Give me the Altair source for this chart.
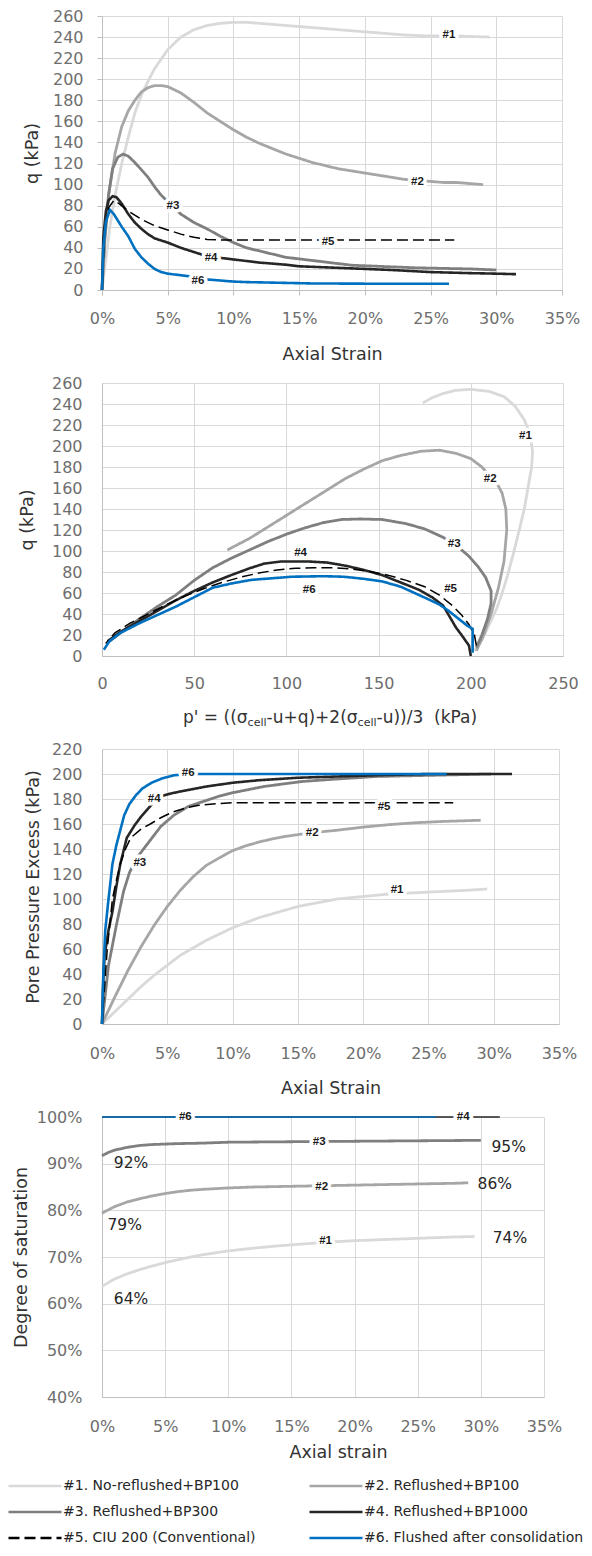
import altair as alt
import pandas as pd

FONT = "DejaVu Sans"
LABEL_FONT = "Liberation Sans"

SERIES = ["#1. No-reflushed+BP100", "#2. Reflushed+BP100", "#3. Reflushed+BP300",
          "#4. Reflushed+BP1000", "#5. CIU 200 (Conventional)", "#6. Flushed after consolidation"]
TAGS = ["#1", "#2", "#3", "#4", "#5", "#6"]
COLORS = ["#d9d9d9", "#a6a6a6", "#7f7f7f", "#262626", "#000000", "#0070c0"]
DASHES = [[1, 0], [1, 0], [1, 0], [1, 0], [11, 5], [1, 0]]
WIDTHS = [2.8, 2.8, 2.8, 2.6, 1.5, 2.6]
WIDTHS_P4 = [2.8, 2.8, 2.8, 1.3, 1.3, 1.3]

# ---------------- Panel 1: q (kPa) vs axial strain (%) ----------------
P1_X1 = [0, 0.3, 0.6, 1, 1.5, 2, 2.5, 3, 3.5, 4, 5, 6, 7, 8, 9, 10, 11, 12, 13, 15, 17, 19, 21, 23, 25, 27, 29.5]
P1_Y1 = [0, 30, 60, 90, 120, 145, 168, 185, 198, 210, 228, 240, 247, 251, 253, 254, 254, 253, 252, 250, 248, 246, 244, 242, 241, 241, 240]
P1_X2 = [0, 0.2, 0.5, 1, 1.5, 2, 2.5, 3, 3.5, 4, 4.5, 5, 6, 7, 8, 9, 10, 11, 12, 13, 14, 15, 16, 17, 18, 19, 20, 21, 22, 23, 24, 25, 26, 27, 28, 29]
P1_Y2 = [0, 50, 90, 130, 155, 170, 180, 188, 192, 194, 194, 193, 187, 178, 168, 160, 152, 145, 139, 134, 129, 125, 121, 118, 115, 113, 111, 109, 107, 105, 104, 103, 102, 102, 101, 100]
P1_X3 = [0, 0.2, 0.5, 0.8, 1.2, 1.6, 2, 2.5, 3, 3.5, 4, 4.5, 5, 5.5, 6, 7, 8, 9, 10, 11, 12, 13, 14, 15, 16, 17, 18, 19, 20, 22, 24, 26, 28, 30]
P1_Y3 = [0, 45, 90, 115, 126, 129, 127, 121, 114, 107, 98, 90, 84, 78, 72, 64, 58, 51, 45, 40, 37, 34, 31, 29.5, 28, 26.5, 25, 23.5, 23, 22, 21, 20.5, 20, 19]
P1_X4 = [0, 0.1, 0.3, 0.5, 0.8, 1.1, 1.5, 2, 2.5, 3, 3.5, 4, 4.5, 5, 6, 7, 8, 9, 10, 12, 14, 15, 17, 20, 22, 25, 28, 30, 31.5]
P1_Y4 = [0, 50, 75, 85, 89, 88, 82, 72, 64, 58, 53, 49, 47, 45, 40, 36, 32, 30.5, 29, 26, 24, 22.5, 21.5, 20, 19, 17, 16, 15.5, 15]
P1_X5 = [0, 0.2, 0.5, 0.9, 1.3, 2, 3, 4, 5, 6, 7, 8, 9, 10, 12, 15, 20, 25, 26.8]
P1_Y5 = [0, 55, 78, 85, 82, 75, 67, 61, 57, 53, 50, 48, 47.5, 47.5, 47.5, 47.5, 47.5, 47.5, 47.5]
P1_X6 = [0, 0.1, 0.3, 0.6, 0.9, 1.2, 1.5, 2, 2.5, 3, 3.5, 4, 4.5, 5, 6, 7, 8, 9, 10, 11, 13, 16, 20, 26.4]
P1_Y6 = [0, 40, 65, 76, 72, 66, 60, 51, 39, 31, 25, 20, 17, 15.5, 14, 12.5, 10, 9, 8, 7.5, 7, 6.2, 6, 6]
P1_LBL_X = [26.4, 24.0, 5.4, 8.3, 17.2, 7.3]
P1_LBL_Y = [241.8, 102.1, 80, 30.4, 45.5, 8.4]

# ---------------- Panel 2: q vs p' ----------------
P2_X1 = [202, 206, 210, 214, 217, 220, 223, 226, 229, 231, 233, 233.5, 232, 229, 224, 218, 210, 200, 192, 185, 179, 174]
P2_Y1 = [5, 15, 30, 45, 60, 77, 97, 118, 140, 160, 180, 195, 212, 225, 238, 247, 252, 254, 253, 250, 246, 241]
P2_X2 = [203, 207, 211, 215, 218, 219.5, 219, 217, 214, 210, 206, 200, 192, 183, 173, 162, 152, 142, 132, 122, 111, 101, 91, 80, 68]
P2_Y2 = [5, 20, 40, 65, 90, 120, 140, 155, 165, 172, 180, 188, 193, 196, 195, 191, 186, 178, 169, 158, 146, 135, 124, 112, 101]
P2_X3 = [203, 206, 209, 211, 211, 208, 204, 199, 193, 185, 175, 165, 152, 140, 130, 120, 110, 100, 90, 80, 70, 60, 50, 40, 30, 20, 10, 4]
P2_Y3 = [8, 20, 35, 50, 62, 75, 85, 95, 104, 113, 121, 126, 130, 130.5, 130, 127, 122, 116, 109, 101, 93, 84, 72, 58, 47, 35, 22, 14]
P2_X4 = [200, 199.5, 199, 197, 195, 192, 189, 185, 179, 172, 162, 152, 142, 132, 122, 112, 97, 88, 80, 70, 60, 50, 40, 30, 20, 10, 3]
P2_Y4 = [0, 5, 10, 15, 20, 27, 36, 48, 56, 63, 70, 77, 82, 86, 89, 90, 90, 88, 83.5, 77, 70, 62, 53, 43, 33, 23, 14]
P2_X5 = [203, 202, 199, 195, 190, 183, 175, 165, 155, 145, 135, 125, 115, 105, 95, 85, 75, 65, 55, 45, 35, 25, 15, 7, 2]
P2_Y5 = [10, 20, 30, 39, 48, 58, 66, 72, 77, 80.5, 83, 84, 84, 83.5, 82, 79, 75, 70, 64, 57, 49, 40, 31, 22, 12]
P2_X6 = [201, 201, 201, 198, 193, 188, 183, 177, 172, 162, 152, 142, 131, 120, 103, 92, 81, 70, 60, 50, 40, 30, 20, 10, 4, 1]
P2_Y6 = [3, 15, 26, 29, 36, 43, 49, 54, 58, 66, 71, 73.5, 75.5, 76, 75.5, 74, 72.5, 69, 65, 56, 47, 39, 31, 22, 14, 6]
P2_LBL_X = [229.6, 210.5, 191, 107.7, 189, 112.4]
P2_LBL_Y = [210, 168.6, 107, 97.7, 63.7, 62.6]

# ---------------- Panel 3: pore pressure excess vs axial strain ----------------
P3_X1 = [0, 1, 2, 3, 4, 5, 6, 7, 8, 9, 10, 11, 12, 13, 14, 15, 16, 17, 18, 19, 20, 22, 24, 26, 28, 29.5]
P3_Y1 = [0, 10, 20, 30, 39, 47, 55, 61, 67, 72, 77, 81, 85, 88, 91, 94, 96, 98, 100, 101, 102, 104, 105, 106, 107, 108]
P3_X2 = [0, 1, 2, 3, 4, 5, 6, 7, 8, 9, 10, 11, 12, 13, 14, 15, 16, 18, 20, 22, 24, 26, 29]
P3_Y2 = [0, 22, 43, 62, 79, 94, 107, 118, 127, 133, 138.7, 142.5, 145.5, 148, 150, 151.5, 153, 155, 157.5, 159.5, 161, 162, 163]
P3_X3 = [0, 0.5, 1.1, 1.65, 2.1, 2.6, 3.4, 4.5, 5.5, 6.6, 8.9, 10, 12.4, 15.3, 18, 21, 25.4, 29.8]
P3_Y3 = [0, 47, 79, 106, 121, 132, 143, 158, 167, 174, 182, 185, 190, 194, 196, 198, 199, 200]
P3_X4 = [0, 0.1, 0.2, 0.5, 0.8, 1.1, 1.4, 1.9, 2.5, 3, 3.5, 4, 4.5, 5.1, 6, 8, 10, 12, 15, 18, 21, 25, 28, 31.4]
P3_Y4 = [0, 35, 55, 75, 90, 110, 128, 149, 159, 166, 172, 178, 182, 184, 186, 190, 193, 195, 197, 198, 199, 200, 200, 200]
P3_X5 = [0, 0.2, 0.4, 0.8, 1.1, 1.4, 1.8, 2.2, 3, 3.7, 4.5, 5.4, 6.5, 7.4, 8.5, 10, 15, 20, 26.9]
P3_Y5 = [0, 30, 60, 100, 115, 128, 140, 149, 156, 160, 165, 169.5, 173, 175, 176, 177, 177, 177, 177]
P3_X6 = [0, 0.1, 0.25, 0.5, 0.8, 1.1, 1.4, 1.7, 2.1, 2.6, 3.1, 3.8, 4.6, 5.5, 7, 26.4]
P3_Y6 = [0, 40, 75, 100, 128, 143, 155, 167, 176, 183, 188.5, 193, 196.5, 199, 200, 200]
P3_LBL_X = [22.6, 16.1, 2.9, 4.0, 21.6, 6.6]
P3_LBL_Y = [107, 152.7, 129, 180.4, 173.7, 201]

# ---------------- Panel 4: degree of saturation vs axial strain ----------------
P4_X1 = [0, 1, 2, 3, 4, 5, 6, 7, 8, 10, 12, 14, 16, 18, 20, 22, 24, 26, 28, 29.5]
P4_Y1 = [63.7, 65.3, 66.4, 67.3, 68.1, 68.8, 69.4, 70, 70.5, 71.3, 71.9, 72.4, 72.8, 73.2, 73.5, 73.7, 73.9, 74.1, 74.3, 74.4]
P4_X2 = [0, 1, 2, 3, 4, 5, 6, 7, 8, 10, 12, 14, 16, 18, 20, 22, 24, 26, 28, 29]
P4_Y2 = [79.4, 80.8, 81.8, 82.5, 83.1, 83.6, 84, 84.3, 84.5, 84.8, 85, 85.1, 85.2, 85.3, 85.4, 85.5, 85.6, 85.7, 85.8, 85.9]
P4_X3 = [0, 0.5, 1, 2, 3, 4, 6, 8, 10, 15, 20, 25, 30]
P4_Y3 = [91.7, 92.4, 92.9, 93.5, 93.9, 94.1, 94.3, 94.4, 94.6, 94.7, 94.8, 94.9, 95]
P4_X4 = [0, 31.5]
P4_Y4 = [100, 100]
P4_X6 = [0, 26.4]
P4_Y6 = [100, 100]
P4_LBL_T = ["#1", "#2", "#3", "#4", "#6"]
P4_LBL_X = [17.7, 17.4, 17.2, 28.6, 6.6]
P4_LBL_Y = [73.4, 85, 94.6, 100, 100]
P4_NOTE_T = ["64%", "79%", "92%", "74%", "86%", "95%"]
P4_NOTE_X = [2.3, 1.8, 2.3, 32.3, 31.1, 32.2]
P4_NOTE_Y = [61, 76.9, 90.2, 74, 85.6, 93.6]

# p' axis title pieces (main text and subscripts)
TITLE2_PARTS = ["p' = ((\u03c3", "cell", "-u+q)+2(\u03c3", "cell", "-u))/3\u00a0\u00a0(kPa)"]
TITLE2_SUB = [False, True, False, True, False]
EM = {"p": .635, "'": .275, " ": .318, "\u00a0": .318, "=": .838, "(": .390, ")": .390,
      "\u03c3": .636, "-": .361, "u": .634, "+": .838, "q": .635, "2": .636, "3": .636,
      "/": .337, "k": .579, "P": .603, "a": .613, "c": .550, "e": .615, "l": .278}

# long horizontal line symbol (5x the nominal symbol width)
LEG = alt.Legend(title=None, orient="none", legendX=-94, legendY=1463, columns=2,
                 direction="horizontal",
                 symbolType="M-5,0H5", symbolSize=112.4, symbolStrokeWidth=2.5,
                 symbolOffset=20, labelOffset=21,
                 labelFont=FONT, labelFontSize=14, labelColor="#262626",
                 rowPadding=12, columnPadding=48, gridAlign="each", labelLimit=400)
COLOR_ENC = alt.Color("series:N", scale=alt.Scale(domain=SERIES, range=COLORS), legend=LEG)
DASH_ENC = alt.StrokeDash("series:N", scale=alt.Scale(domain=SERIES, range=DASHES), legend=LEG)


def xaxis(values, title, tick, lpad, title_y=None, title_x=None, pct=False):
    kw = dict(values=values, grid=True, ticks=tick > 0, labelPadding=lpad,
              labelFlush=False, labelOverlap=False, title=title)
    if tick > 0:
        kw["tickSize"] = tick
    if title_y is not None:
        kw["titleY"] = title_y
        kw["titleBaseline"] = "alphabetic"
    if title_x is not None:
        kw["titleX"] = title_x
        kw["titleAlign"] = "center"
    if pct:
        kw["labelExpr"] = "datum.value + '%'"
    return alt.Axis(**kw)


def yaxis(values, title, tick, lpad, title_x, pct=False):
    kw = dict(values=values, grid=True, ticks=tick > 0, labelPadding=lpad,
              labelFlush=False, labelOverlap=False, title=title,
              titleX=title_x, titleBaseline="middle")
    if tick > 0:
        kw["tickSize"] = tick
    if pct:
        kw["labelExpr"] = "datum.value + '%'"
    return alt.Axis(**kw)


def panel(xs, ys, widths, xdom, ydom, xax, yax, w, h, lbl_t, lbl_x, lbl_y, extra=()):
    X = alt.X("x:Q", scale=alt.Scale(domain=xdom, nice=False, zero=False), axis=xax)
    Y = alt.Y("y:Q", scale=alt.Scale(domain=ydom, nice=False, zero=False), axis=yax)
    layers = []
    for k in range(6):
        if xs[k] is None:
            continue
        df = pd.DataFrame({"x": xs[k], "y": ys[k], "i": list(range(len(xs[k]))), "series": SERIES[k]})
        layers.append(alt.Chart(df).mark_line(strokeWidth=widths[k]).encode(
            x=X, y=Y, order=alt.Order("i:Q"), color=COLOR_ENC, strokeDash=DASH_ENC))
    ldf = pd.DataFrame({"x": lbl_x, "y": lbl_y, "t": lbl_t})
    layers.append(alt.Chart(ldf).mark_text(font=LABEL_FONT, fontSize=11.5, fontWeight="bold",
                                           fill="white", stroke="white", strokeWidth=7,
                                           strokeJoin="round").encode(x=X, y=Y, text="t:N"))
    layers.append(alt.Chart(ldf).mark_text(font=LABEL_FONT, fontSize=11.5, fontWeight="bold",
                                           fill="#1a1a1a").encode(x=X, y=Y, text="t:N"))
    for e in extra:
        layers.append(e(X, Y))
    return alt.layer(*layers).properties(width=w, height=h)


X_PCT = list(range(0, 36, 5))

p1 = panel([P1_X1, P1_X2, P1_X3, P1_X4, P1_X5, P1_X6], [P1_Y1, P1_Y2, P1_Y3, P1_Y4, P1_Y5, P1_Y6],
           WIDTHS, [0, 35], [0, 260],
           xaxis(X_PCT, "Axial Strain", 5, 15.5, title_y=69, pct=True),
           yaxis(list(range(0, 261, 20)), "q (kPa)", 5, 14, -70),
           460, 274, TAGS, P1_LBL_X, P1_LBL_Y)


def title2(X, Y):
    parts = []
    x = 81.0
    for txt, sub in zip(TITLE2_PARTS, TITLE2_SUB):
        fs = 11 if sub else 17
        yb = 343.4 if sub else 339.9
        parts.append(alt.Chart(pd.DataFrame({"a": [0]})).mark_text(
            font=FONT, fontSize=fs, align="left", baseline="alphabetic", color="#333333").encode(
            x=alt.value(x), y=alt.value(yb), text=alt.value(txt)))
        x += sum(EM.get(c, 0.6) for c in txt) * fs
    return alt.layer(*parts)


p2 = panel([P2_X1, P2_X2, P2_X3, P2_X4, P2_X5, P2_X6], [P2_Y1, P2_Y2, P2_Y3, P2_Y4, P2_Y5, P2_Y6],
           WIDTHS, [0, 250], [0, 260],
           xaxis(list(range(0, 251, 50)), None, 0, 19.5),
           yaxis(list(range(0, 261, 20)), "q (kPa)", 0, 20, -75),
           461, 273, TAGS, P2_LBL_X, P2_LBL_Y, extra=[title2])

p3 = panel([P3_X1, P3_X2, P3_X3, P3_X4, P3_X5, P3_X6], [P3_Y1, P3_Y2, P3_Y3, P3_Y4, P3_Y5, P3_Y6],
           WIDTHS, [0, 35], [0, 220],
           xaxis(X_PCT, "Axial Strain", 0, 21, title_y=69, pct=True),
           yaxis(list(range(0, 221, 20)), "Pore Pressure Excess (kPa)", 0, 20, -69),
           457, 275, TAGS, P3_LBL_X, P3_LBL_Y)


def notes4(X, Y):
    ndf = pd.DataFrame({"x": P4_NOTE_X, "y": P4_NOTE_Y, "t": P4_NOTE_T})
    return alt.Chart(ndf).mark_text(font=FONT, fontSize=15.5, color="#262626").encode(x=X, y=Y, text="t:N")


p4 = panel([P4_X1, P4_X2, P4_X3, P4_X4, None, P4_X6], [P4_Y1, P4_Y2, P4_Y3, P4_Y4, None, P4_Y6],
           WIDTHS_P4, [0, 35], [40, 100],
           xaxis(X_PCT, "Axial strain", 0, 21, title_y=60, title_x=236, pct=True),
           yaxis(list(range(40, 101, 10)), "Degree of saturation", 0, 20, -81, pct=True),
           442, 280, P4_LBL_T, P4_LBL_X, P4_LBL_Y, extra=[notes4])

chart = alt.vconcat(p1, p2, p3, p4, spacing=93, bounds="flush").properties(
    padding={"left": 0, "top": 0, "right": 0, "bottom": 0}
).configure_view(strokeWidth=0).configure_axis(
    labelFont=FONT, labelFontSize=16, labelColor="#6e6e6e",
    titleFont=FONT, titleFontSize=17.5, titleColor="#333333", titleFontWeight="normal",
    gridColor="#d9d9d9", domainColor="#bfbfbf", tickColor="#bfbfbf"
)

chart.save("out.html", embed_options={"renderer": "svg", "actions": False})
